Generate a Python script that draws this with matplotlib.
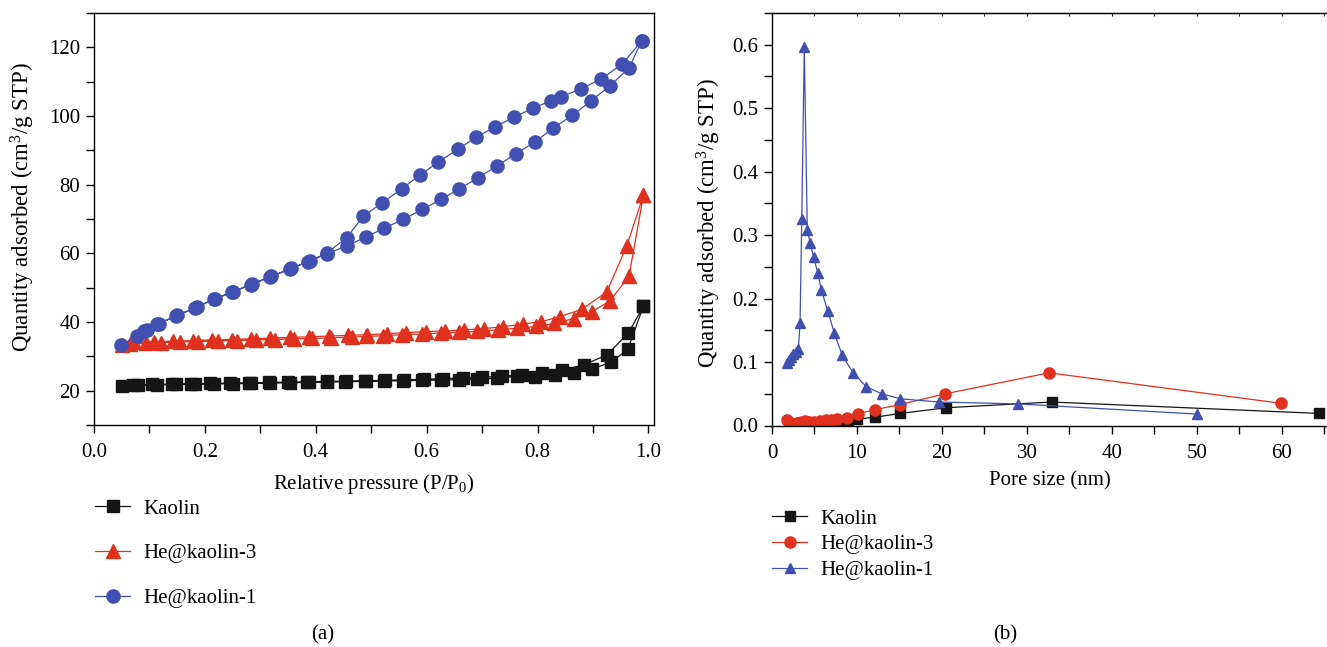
import matplotlib
matplotlib.use('Agg')
import matplotlib.pyplot as plt
from matplotlib.ticker import MultipleLocator

plt.rcParams['font.family'] = ['Liberation Serif', 'DejaVu Serif']
plt.rcParams['mathtext.fontset'] = 'custom'
plt.rcParams['mathtext.rm'] = 'Liberation Serif'
plt.rcParams['mathtext.it'] = 'Liberation Serif:italic'

# ---- (a) N2 isotherms: adsorption + desorption branches ----
kao_p_ads = [0.051, 0.08, 0.113, 0.148, 0.183, 0.217, 0.25, 0.283, 0.318, 0.353, 0.387, 0.42,
             0.453, 0.488, 0.523, 0.557, 0.592, 0.625, 0.658, 0.691, 0.726, 0.763, 0.796,
             0.832, 0.865, 0.898, 0.933, 0.963, 0.991]
kao_q_ads = [21.5, 21.6, 21.7, 21.8, 21.9, 22.0, 22.0, 22.1, 22.2, 22.3, 22.4, 22.5,
             22.6, 22.7, 22.8, 22.9, 23.0, 23.1, 23.2, 23.4, 23.6, 24.2, 23.9,
             24.6, 25.1, 26.3, 28.3, 32.1, 44.7]
kao_p_des = [0.991, 0.964, 0.925, 0.883, 0.844, 0.808, 0.772, 0.735, 0.70, 0.665, 0.63,
             0.595, 0.56, 0.525, 0.49, 0.455, 0.42, 0.385, 0.35, 0.315, 0.28, 0.245,
             0.21, 0.175, 0.14, 0.105, 0.07]
kao_q_des = [44.7, 36.8, 30.4, 27.5, 26.0, 25.1, 24.6, 24.2, 23.9, 23.7, 23.5,
             23.3, 23.2, 23.0, 22.9, 22.8, 22.7, 22.6, 22.5, 22.4, 22.3, 22.2,
             22.1, 22.0, 21.9, 21.8, 21.7]

he3_p_ads = [0.051, 0.065, 0.093, 0.121, 0.155, 0.188, 0.223, 0.258, 0.293, 0.327, 0.36,
             0.393, 0.427, 0.465, 0.491, 0.521, 0.556, 0.591, 0.625, 0.658, 0.691, 0.728,
             0.763, 0.798, 0.83, 0.865, 0.898, 0.931, 0.965, 0.991]
he3_q_ads = [33.3, 33.6, 33.8, 34.0, 34.2, 34.3, 34.5, 34.6, 34.8, 34.9, 35.1,
             35.2, 35.4, 35.6, 35.8, 36.0, 36.3, 36.5, 36.8, 37.0, 37.3, 37.7,
             38.2, 38.7, 39.6, 41.0, 43.0, 46.2, 53.4, 77.0]
he3_p_des = [0.991, 0.961, 0.925, 0.88, 0.841, 0.807, 0.773, 0.738, 0.703, 0.668, 0.633,
             0.598, 0.563, 0.528, 0.493, 0.458, 0.423, 0.388, 0.353, 0.318, 0.283, 0.248,
             0.213, 0.178, 0.143, 0.108, 0.073]
he3_q_des = [77.0, 62.2, 48.8, 43.7, 41.6, 40.1, 39.4, 38.6, 38.1, 37.7, 37.4,
             37.2, 36.9, 36.6, 36.3, 36.1, 35.9, 35.7, 35.5, 35.3, 35.1, 34.9,
             34.8, 34.6, 34.4, 34.3, 34.1]

he1_p_ads = [0.049, 0.078, 0.09, 0.113, 0.147, 0.182, 0.216, 0.249, 0.283, 0.318, 0.353,
             0.386, 0.421, 0.456, 0.49, 0.523, 0.558, 0.592, 0.626, 0.659, 0.693, 0.727,
             0.761, 0.796, 0.828, 0.863, 0.897, 0.93, 0.965, 0.988]
he1_q_ads = [33.3, 36.0, 37.3, 39.3, 41.7, 44.1, 46.6, 48.6, 50.9, 53.1, 55.4,
             57.6, 59.9, 62.2, 64.7, 67.3, 69.9, 72.8, 75.7, 78.8, 82.0, 85.5,
             89.0, 92.5, 96.5, 100.2, 104.5, 108.7, 114.0, 121.9]
he1_p_des = [0.988, 0.953, 0.915, 0.878, 0.843, 0.825, 0.791, 0.758, 0.724, 0.689, 0.656,
             0.621, 0.588, 0.555, 0.52, 0.486, 0.456, 0.421, 0.39, 0.355, 0.32, 0.285,
             0.25, 0.218, 0.185, 0.15, 0.117, 0.095]
he1_q_des = [121.9, 115.2, 110.8, 107.9, 105.6, 104.5, 102.2, 99.7, 96.9, 93.8, 90.3,
             86.6, 82.8, 78.8, 74.7, 70.9, 64.6, 60.2, 57.8, 55.6, 53.3, 51.1,
             48.8, 46.8, 44.3, 41.9, 39.5, 37.6]

# ---- (b) pore size distribution ----
kao_d = [3.0, 3.7, 4.5, 5.5, 6.3, 7.0, 8.0, 9.0, 10.0, 12.1, 15.1, 20.5, 32.9, 64.4]
kao_v = [0.0, 0.0, 0.0, 0.0, 0.001, 0.002, 0.003, 0.006, 0.010, 0.013, 0.019, 0.028, 0.037, 0.019]

he3_d = [1.75, 2.0, 2.3, 2.6, 3.0, 3.4, 3.9, 4.4, 5.0, 5.6, 6.3, 7.0, 7.7, 8.8,
         10.1, 12.1, 15.1, 20.4, 32.6, 59.9]
he3_v = [0.009, 0.006, 0.003, 0.002, 0.004, 0.005, 0.007, 0.006, 0.006, 0.007, 0.008, 0.009,
         0.010, 0.012, 0.0185, 0.025, 0.033, 0.050, 0.083, 0.035]

he1_d = [1.75, 2.0, 2.2, 2.5, 2.8, 3.1, 3.3, 3.5, 3.8, 4.15, 4.5, 4.9, 5.4, 5.8, 6.55,
         7.35, 8.25, 9.55, 11.1, 12.9, 15.1, 19.7, 29.0, 50.0]
he1_v = [0.098, 0.103, 0.108, 0.113, 0.116, 0.121, 0.161, 0.325, 0.596, 0.308, 0.287, 0.265,
         0.240, 0.214, 0.181, 0.145, 0.111, 0.083, 0.061, 0.050, 0.042, 0.037, 0.034, 0.018]

labels = ['Kaolin', 'He@kaolin-3', 'He@kaolin-1']
c_black = '#151515'
c_red = '#e0301e'
c_blue = '#4150b0'
fs = 15

fig = plt.figure(figsize=(13.27, 6.47), dpi=100)
ax1 = fig.add_axes([94 / 1327, 1 - 425 / 647, 560 / 1327, 412 / 647])
ax2 = fig.add_axes([772 / 1327, 1 - 425.5 / 647, 555 / 1327, 412.5 / 647])

# left panel
lw = 0.9
l1, = ax1.plot(kao_p_ads + kao_p_des, kao_q_ads + kao_q_des, '-s', color=c_black,
               ms=8, lw=lw, label=labels[0])
l2, = ax1.plot(he3_p_ads + he3_p_des, he3_q_ads + he3_q_des, '-^', color=c_red,
               ms=9.5, lw=lw, label=labels[1])
l3, = ax1.plot(he1_p_ads + he1_p_des, he1_q_ads + he1_q_des, '-o', color=c_blue,
               ms=9.5, lw=lw, label=labels[2])
ax1.set_xlim(0, 1.01)
ax1.set_ylim(10, 130)
ax1.xaxis.set_major_locator(MultipleLocator(0.2))
ax1.xaxis.set_minor_locator(MultipleLocator(0.1))
ax1.yaxis.set_major_locator(MultipleLocator(20))
ax1.yaxis.set_minor_locator(MultipleLocator(10))
ax1.tick_params(which='both', direction='out', length=6, width=1, labelsize=fs, pad=4)
ax1.tick_params(axis='x', pad=7)
ax1.set_xlabel(r'Relative pressure (P/P$_0$)', fontsize=fs, labelpad=7)
ax1.set_ylabel(r'Quantity adsorbed (cm$^3$/g STP)', fontsize=16.5)
ax1.yaxis.set_label_coords(-0.101, 0.53)

# right panel
r1, = ax2.plot(kao_d, kao_v, '-s', color=c_black, ms=6.5, lw=lw, label=labels[0])
r2, = ax2.plot(he3_d, he3_v, '-o', color=c_red, ms=8, lw=lw, label=labels[1])
r3, = ax2.plot(he1_d, he1_v, '-^', color=c_blue, ms=7.5, lw=lw, label=labels[2])
ax2.set_xlim(0, 65.3)
ax2.set_ylim(0, 0.65)
ax2.xaxis.set_major_locator(MultipleLocator(10))
ax2.xaxis.set_minor_locator(MultipleLocator(5))
ax2.yaxis.set_major_locator(MultipleLocator(0.1))
ax2.yaxis.set_minor_locator(MultipleLocator(0.05))
ax2.tick_params(which='both', direction='out', length=6, width=1, labelsize=fs, pad=4)
ax2.tick_params(axis='x', pad=7)
ax2.spines['right'].set_visible(False)
ax2.set_xlabel('Pore size (nm)', fontsize=fs, labelpad=6)
ax2.set_ylabel(r'Quantity adsorbed (cm$^3$/g STP)', fontsize=16.5)
ax2.yaxis.set_label_coords(-0.088, 0.49)
top = ax2.secondary_xaxis('top')
top.xaxis.set_major_locator(MultipleLocator(10))
top.xaxis.set_minor_locator(MultipleLocator(5))
top.tick_params(which='both', direction='in', length=2, labeltop=False)

for ax in (ax1, ax2):
    for s in ax.spines.values():
        s.set_linewidth(1.0)

fig.legend(handles=[l1, l2, l3], loc='upper left', bbox_to_anchor=(95 / 1327, 1 - 499 / 647),
           frameon=False, fontsize=fs, labelspacing=1.21, handlelength=1.7,
           borderpad=0, borderaxespad=0, handletextpad=0.6)
fig.legend(handles=[r1, r2, r3], loc='upper left', bbox_to_anchor=(772 / 1327, 1 - 509 / 647),
           frameon=False, fontsize=fs, labelspacing=0.3, handlelength=1.7,
           borderpad=0, borderaxespad=0, handletextpad=0.6)

fig.text(323 / 1327, 1 - 635 / 647, '(a)', ha='center', va='center', fontsize=fs)
fig.text(1005 / 1327, 1 - 635 / 647, '(b)', ha='center', va='center', fontsize=fs)

fig.savefig('out.png', dpi=100)
